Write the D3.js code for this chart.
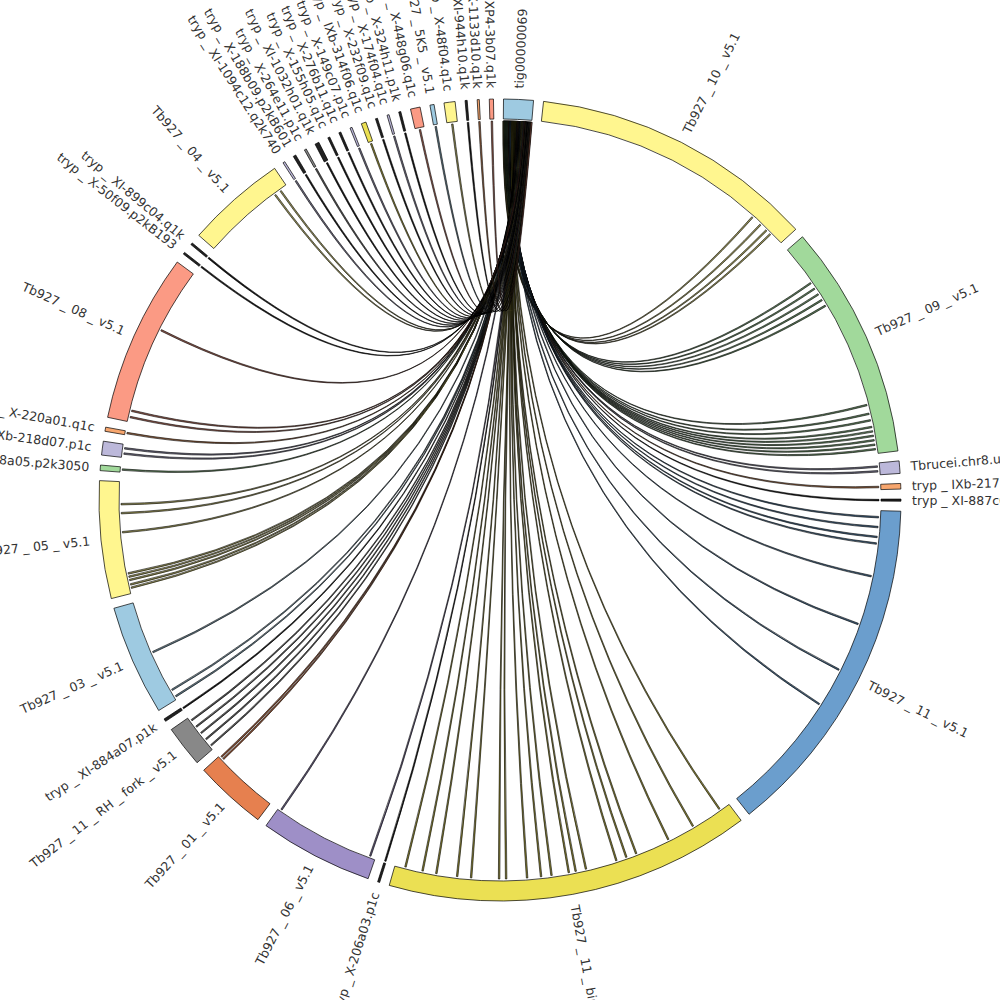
<!DOCTYPE html>
<html><head><meta charset="utf-8">
<script src="https://cdn.jsdelivr.net/npm/d3@7"></script>
<style>body{margin:0;background:#fff}</style>
</head><body><div id="chart"></div>
<script>
// contigs in order round the circle, clockwise from the top
var names = ["tig00000069","Tb927_10_v5.1","Tb927_09_v5.1","Tbrucei.chr8.unitig_1","tryp_IXb-217a08.p1c","tryp_XI-887c04.q1k",
  "Tb927_11_v5.1","Tb927_11_bin_v5.1","tryp_X-206a03.p1c","Tb927_06_v5.1","Tb927_01_v5.1","Tb927_11_RH_fork_v5.1",
  "tryp_XI-884a07.p1k","Tb927_03_v5.1","Tb927_05_v5.1","tryp_X-128a05.p2k3050","tryp_IXb-218d07.p1c","tryp_X-220a01.q1c",
  "Tb927_08_v5.1","tryp_X-50f09.p2kB193","tryp_XI-899c04.q1k","Tb927_04_v5.1",
  "tryp_XI-1094c12.q2k740","tryp_X-188b09.p2kB601","tryp_X-264e11.p1c","tryp_XI-1032h01.q1k","tryp_X-155h05.q1c",
  "tryp_X-276b11.q1c","tryp_X-149c07.p1c","tryp_IXb-314f06.q1c","tryp_X-232f09.q1c","tryp_X-174f04.q1c",
  "tryp_X-324h11.p1k","tryp_X-448g06.q1c","Tb927_5K5_v5.1","tryp_X-48f04.q1c","tryp_XI-944h10.q1k",
  "tryp_X-1133d10.q1k","tryp_XP4-3b07.q1k"];
var sizes = [4.3,41.3,34,1.8,0.8,0.3,50,53,0.3,16.5,10.5,6,0.4,16,17,0.8,2,0.6,24.5,0.3,0.3,14.5,
  0.3,0.4,0.3,0.6,0.3,0.3,0.3,0.7,0.3,0.3,0.3,1.4,0.6,1.6,0.3,0.3,0.6];
var colors = ["#9ecae1","#fff68f","#a1d99b","#bcb8da","#f7a66e","#222",
  "#6b9ecd","#ebe053","#222","#9e8fc7","#e6804f","#888",
  "#222","#9ecae1","#fff68f","#a1d99b","#bcb8da","#f7a66e",
  "#fb9a84","#222","#222","#fff68f",
  "#bcb8da","#222","#888","#222","#222","#222","#bcb8da","#ebe053","#222","#bcb8da",
  "#222","#fb9a84","#9ecae1","#fff68f","#222","#f7a66e","#fb9a84"];
// links from tig00000069: [target contig index, position along target (0-1)]
var links = [
  [1,0.86],[1,0.9],[1,0.93],[1,0.95],
  [2,0.18],[2,0.21],[2,0.24],[2,0.27],[2,0.3],[2,0.78],[2,0.82],[2,0.85],[2,0.88],[2,0.9],[2,0.92],[2,0.94],[2,0.96],[2,0.98],
  [3,0.3],[3,0.7],[4,0.5],[5,0.5],
  [6,0.02],[6,0.05],[6,0.08],[6,0.1],[6,0.2],[6,0.35],[6,0.5],[6,0.62],
  [7,0.03],[7,0.12],[7,0.2],[7,0.3],[7,0.33],[7,0.36],[7,0.45],[7,0.48],[7,0.5],[7,0.55],[7,0.58],[7,0.62],[7,0.68],[7,0.7],[7,0.78],[7,0.82],[7,0.88],[7,0.92],[7,0.97],
  [8,0.5],[9,0.05],[9,0.97],[10,0.93],[10,0.97],[11,0.1],[11,0.3],[11,0.5],[11,0.7],[11,0.9],[12,0.5],
  [13,0.03],[13,0.1],[13,0.5],
  [14,0.05],[14,0.08],[14,0.12],[14,0.15],[14,0.18],[14,0.55],[14,0.72],[14,0.8],
  [15,0.5],[16,0.3],[16,0.7],[17,0.5],[18,0.03],[18,0.07],[18,0.6],[19,0.5],[20,0.5],[21,0.85],[21,0.92],
  [22,0.5],[23,0.5],[24,0.5],[25,0.5],[26,0.5],[27,0.5],[28,0.5],[29,0.5],[30,0.5],[31,0.5],[32,0.5],
  [33,0.5],[34,0.5],[35,0.5],[36,0.5],[37,0.5],[38,0.5]
];

var W = 1000, H = 1000, cx = 500, cy = 500;
var rIn = 381, rOut = 401, rLab = 412;
var total = d3.sum(sizes), gap = (360 - total) / sizes.length * Math.PI / 180;
var angle = d3.scaleLinear().domain([0, total]).range([0, 2 * Math.PI - gap * sizes.length]);

var segs = [], acc = 0;
sizes.forEach(function(s, i) {
  var a0 = angle(acc) + gap * (i + 0.35);
  segs.push({name: names[i], color: colors[i], startAngle: a0, endAngle: a0 + angle(s)});
  acc += s;
});

var svg = d3.select("#chart").append("svg").attr("width", W).attr("height", H)
  .append("g").attr("transform", "translate(" + cx + "," + cy + ")");

var ribbon = d3.ribbon().radius(rIn - 2);
var src = segs[0], n = links.length;
svg.append("g").selectAll("path").data(links).enter().append("path")
  .attr("d", function(d, i) {
    var t = segs[d[0]], span = t.endAngle - t.startAngle;
    var w = Math.min(span * 0.9, 0.004);
    var ta = t.startAngle + span * d[1];
    var sa = src.startAngle + (src.endAngle - src.startAngle) * (i + 0.5) / n;
    return ribbon({source: {startAngle: sa - 0.0015, endAngle: sa + 0.0015},
                   target: {startAngle: ta - w / 2, endAngle: ta + w / 2}});
  })
  .attr("fill", function(d) { return d3.color(segs[d[0]].color).darker(1.5); })
  .attr("stroke", "#000").attr("stroke-width", 0.6);

var arc = d3.arc().innerRadius(rIn).outerRadius(rOut);
svg.append("g").selectAll("path").data(segs).enter().append("path")
  .attr("d", arc).attr("fill", function(d) { return d.color; })
  .attr("stroke", "#000").attr("stroke-width", 0.7);

svg.append("g").selectAll("text").data(segs).enter().append("text")
  .attr("transform", function(d) {
    var a = (d.startAngle + d.endAngle) / 2 * 180 / Math.PI;
    return a < 180 ? "rotate(" + (a - 90) + ") translate(" + rLab + ",0)"
                   : "rotate(" + (a + 90) + ") translate(" + (-rLab) + ",0)";
  })
  .attr("text-anchor", function(d) { return (d.startAngle + d.endAngle) / 2 < Math.PI ? "start" : "end"; })
  .attr("dy", "0.35em")
  .attr("font-family", "DejaVu Sans").attr("font-size", 12.5).attr("fill", "#333")
  .text(function(d) { return d.name.replace(/_/g, " _ "); });
</script></body></html>
